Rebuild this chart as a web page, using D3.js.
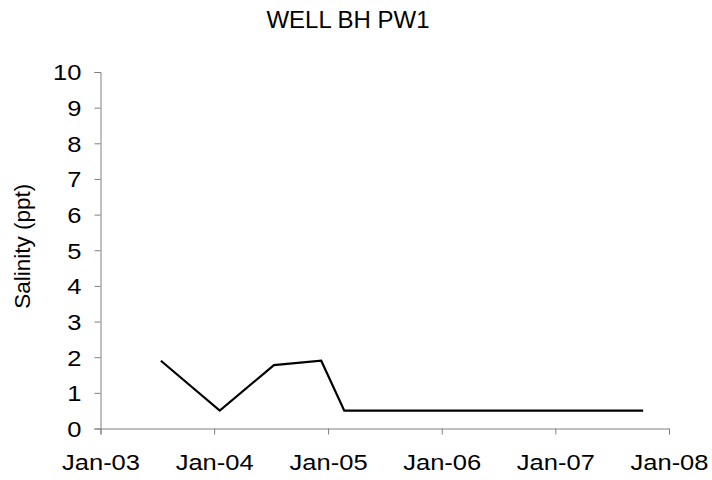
<!DOCTYPE html>
<html>
<head>
<meta charset="utf-8">
<script src="https://cdn.jsdelivr.net/npm/d3@7"></script>
<style>
  html, body { margin: 0; padding: 0; background: #fff; }
  svg { display: block; font-family: "Liberation Sans", Arial, sans-serif; }
</style>
</head>
<body>
<svg id="chart" width="712" height="480"></svg>
<script>
// ---- data ----
const title = "WELL BH PW1";
const yLabel = "Salinity (ppt)";
const sampleDates = ["2003-07-14", "2004-01-19", "2004-07-11", "2004-12-10", "2005-02-22", "2007-10-10"];
const salinity = [1.9, 0.5, 1.78, 1.9, 0.5, 0.5];
const xTickDates = ["2003-01-01", "2004-01-01", "2005-01-01", "2006-01-01", "2007-01-01", "2008-01-01"];
const yTicks = [0, 1, 2, 3, 4, 5, 6, 7, 8, 9, 10];

const parse = d3.timeParse("%Y-%m-%d");
const points = sampleDates.map((d, i) => ({ date: parse(d), value: salinity[i] }));
const xTicks = xTickDates.map(parse);

const svg = d3.select("#chart");
const plotLeft = 100.5, plotRight = 669, plotTop = 72, plotBottom = 428.5;
const stretch = 1.16;

const x = d3.scaleTime().domain([xTicks[0], xTicks[xTicks.length - 1]]).range([plotLeft, plotRight]);
const y = d3.scaleLinear().domain([0, 10]).range([plotBottom, plotTop]);

const axisColor = "#808080";

// x axis
const gx = svg.append("g")
  .attr("transform", `translate(0,${plotBottom})`)
  .call(d3.axisBottom(x).tickValues(xTicks).tickFormat(d3.timeFormat("%b-%y")).tickSizeOuter(0).tickSize(6));
gx.select(".domain").attr("stroke", axisColor);
gx.selectAll(".tick line").attr("stroke", axisColor);
gx.selectAll(".tick text")
  .attr("y", 42).attr("dy", 0)
  .attr("transform", `scale(${stretch},1)`)
  .attr("fill", "#000")
  .style("font-size", "22px")
  .style("font-family", "'Liberation Sans', Arial, sans-serif");

// y axis
const gy = svg.append("g")
  .attr("transform", `translate(${plotLeft},0)`)
  .call(d3.axisLeft(y).tickValues(yTicks).tickFormat(d3.format("d")).tickSizeOuter(0).tickSize(6));
gy.select(".domain").attr("stroke", axisColor);
gy.selectAll(".tick line").attr("stroke", axisColor);
gy.selectAll(".tick text")
  .attr("x", -19 / stretch).attr("dy", "0.36em")
  .attr("transform", `scale(${stretch},1)`)
  .attr("fill", "#000")
  .style("font-size", "22px")
  .style("font-family", "'Liberation Sans', Arial, sans-serif");

// line
const line = d3.line().x(d => x(d.date)).y(d => y(d.value));
svg.append("path")
  .datum(points)
  .attr("fill", "none")
  .attr("stroke", "#000")
  .attr("stroke-width", 2.2)
  .attr("stroke-linejoin", "miter")
  .attr("d", line);

// title
svg.append("text")
  .attr("x", 348).attr("y", 27.5)
  .attr("text-anchor", "middle")
  .style("font-size", "24px")
  .attr("fill", "#000")
  .text(title);

// y label
svg.append("text")
  .attr("transform", `translate(30,${(plotTop + plotBottom) / 2 - 4}) rotate(-90)`)
  .attr("text-anchor", "middle")
  .style("font-size", "22.5px")
  .attr("fill", "#000")
  .text(yLabel);
</script>
</body>
</html>
